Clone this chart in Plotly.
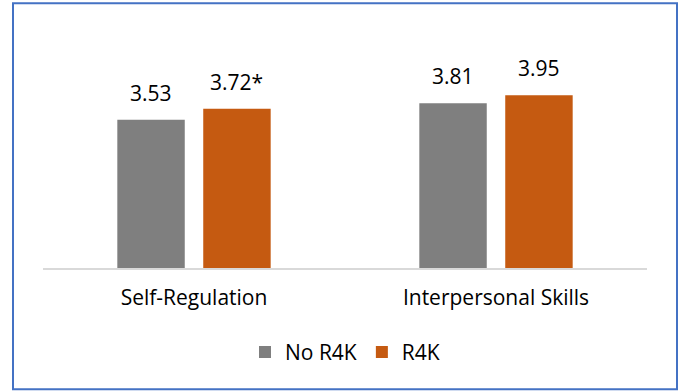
import plotly.graph_objects as go

categories = ["Self-Regulation", "Interpersonal Skills"]
series_names = ["No R4K", "R4K"]
no_r4k = [3.53, 3.81]
r4k = [3.72, 3.95]
no_r4k_labels = ["3.53", "3.81"]
r4k_labels = ["3.72*", "3.95"]
colors = ["#7F7F7F", "#C55A11"]

W, H = 681, 392
ml, mr, mt, mb = 43, 34, 60, 123.5
pw, ph = W - ml - mr, H - mt - mb
FONT = "Open Sans"
FS = 21

fig = go.Figure()
for name, vals, col in zip(series_names, [no_r4k, r4k], colors):
    fig.add_trace(go.Bar(x=categories, y=vals, name=name, marker_color=col,
                         marker_line_width=0, hoverinfo="skip"))

band = pw / len(categories)
bargap = 0.431
bargroupgap = 0.215
slot = band * (1 - bargap) / 2
annotations = []
for k, (vals, labs) in enumerate([(no_r4k, no_r4k_labels), (r4k, r4k_labels)]):
    shift = (k - 0.5) * slot
    for c, v, t in zip(categories, vals, labs):
        annotations.append(dict(x=c, y=v, xref="x", yref="y", text=t, showarrow=False,
                                xshift=shift, yshift=11, yanchor="bottom",
                                font=dict(family=FONT, size=FS, color="#000000")))

def px2paper_x(px):
    return (px - ml) / pw

def px2paper_y(py):
    return (H - mb - py) / ph

fig.update_layout(
    width=W, height=H,
    margin=dict(l=ml, r=mr, t=mt, b=mb, pad=0),
    paper_bgcolor="white", plot_bgcolor="white",
    barmode="group", bargap=bargap, bargroupgap=bargroupgap,
    font=dict(family=FONT, size=FS, color="#000000"),
    showlegend=True,
    legend=dict(orientation="h", x=0.5, xanchor="center", y=px2paper_y(353), yanchor="middle",
                font=dict(family=FONT, size=FS, color="#000000"), itemwidth=30,
                traceorder="normal"),
    xaxis=dict(showline=True, linecolor="#D9D9D9", linewidth=1.5, showgrid=False,
               ticks="outside", ticklen=0, ticklabelstandoff=10, zeroline=False,
               tickfont=dict(family=FONT, size=FS, color="#000000"), fixedrange=True),
    yaxis=dict(range=[1, 4.55], visible=False, showgrid=False, zeroline=False, fixedrange=True),
    annotations=annotations,
    shapes=[dict(type="rect", xref="paper", yref="paper",
                 x0=px2paper_x(13), x1=px2paper_x(677), y0=px2paper_y(390), y1=px2paper_y(3),
                 line=dict(color="#4472C4", width=2), fillcolor="rgba(0,0,0,0)", layer="below")],
)

fig.write_html("out.html", config={"displayModeBar": False})
